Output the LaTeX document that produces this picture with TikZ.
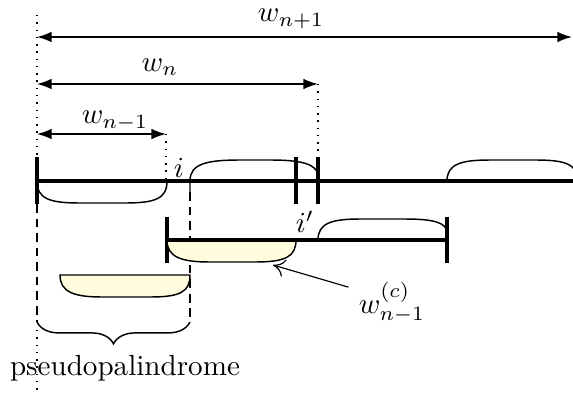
\documentclass[tikz,border=0pt]{standalone}
\usepackage{tikz}
\usetikzlibrary{arrows.meta,decorations.pathreplacing}

\begin{document}
\begin{tikzpicture}[x=0.3436pt, y=-0.3436pt,
    word/.style={line width=1.05pt},
    dimline/.style={{Latex[length=5pt,width=3.6pt]}-{Latex[length=5pt,width=3.6pt]}, line width=0.45pt},
    guide/.style={dotted, line width=0.5pt},
    cut/.style={dash pattern=on 3pt off 2pt, line width=0.45pt},
    cup/.style={line width=0.5pt},
    pal/.style={cup, fill=yellow!13}]
\useasboundingbox (0,0) rectangle (573,392);
% Ends of the words
\coordinate (s)  at (37,181);
\coordinate (e)  at (573,181);
\coordinate (s2) at (167,240);
\coordinate (e2) at (447,240);
% Ticks
\foreach \x/\n in {37/l, 296/p, 318/q} {
    \coordinate (\n-up) at (\x,157);
    \coordinate (\n-dn) at (\x,204);
    \draw[word] (\n-up) -- (\n-dn);
}
\coordinate (s2-up) at (167,217); \coordinate (s2-dn) at (167,263);
\coordinate (e2-up) at (447,217); \coordinate (e2-dn) at (447,263);
\draw[word] (s2-up) -- (s2-dn);
\draw[word] (e2-up) -- (e2-dn);
% The two lines
\draw[word] (s) -- (e);
\draw[word] (s2) -- (e2);
% Lengths w_{n+1}, w_n, w_{n-1}
\coordinate (a1) at (37,37);  \coordinate (b1) at (572,37);
\coordinate (a2) at (37,84);  \coordinate (b2) at (318,84);
\coordinate (a3) at (37,134); \coordinate (b3) at (166,134);
\draw[dimline] (a1) -- (b1);
\draw[dimline] (a2) -- (b2);
\draw[dimline] (a3) -- (b3);
\node (wn1) at (291,19)  {$w_{n+1}$};
\node (wn)  at (160,67)  {$w_n$};
\node (wm1) at (115,121) {$w_{n-1}$};
% Guides
\coordinate (top) at (37,15);
\coordinate (c3)  at (166,181);
\draw[guide] (top) -- (l-up);
\draw[guide] (b3) -- (c3);
\draw[guide] (b2) -- (q-up);
\coordinate (lb)  at (37,322);
\coordinate (rb)  at (190,322);
\coordinate (rt)  at (190,192);
\coordinate (lg)  at (37,330);
\coordinate (bot) at (37,392);
\draw[cut] (l-dn) -- (lb);
\draw[cut] (rt) -- (rb);
\draw[guide] (lg) -- (bot);
% Cups on the first line
\draw[cup] (s) .. controls (37,199) and (50,203) .. (80,203) -- (124,203)
    .. controls (155,203) and (167,199) .. (167,181);
\draw[cup] (rt) -- (190,181) .. controls (190,164) and (206,160) .. (240,160)
    -- (270,160) .. controls (302,160) and (315,164) .. (318,174);
\draw[cup] (447,181) .. controls (447,164) and (461,160) .. (490,160)
    -- (535,160) .. controls (566,160) and (577,164) .. (578,181);
% Cups on the second line
\draw[cup] (318,240) .. controls (318,223) and (332,219) .. (360,219)
    -- (405,219) .. controls (435,219) and (446,223) .. (447,232);
\draw[pal] (s2) .. controls (167,257) and (181,262) .. (210,262) -- (255,262)
    .. controls (285,262) and (296,257) .. (296,240);
\draw[word] (s2) -- (296,240);
\coordinate (yc) at (273,265);
\node (wc) at (392,303) {$w^{(c)}_{n-1}$};
\draw[-{To[length=4pt,width=6pt]}, line width=0.4pt] (wc.160) -- (yc);
% Copy below
\draw[pal] (60,275) .. controls (60,292) and (74,297) .. (102,297) -- (150,297)
    .. controls (180,297) and (190,292) .. (190,275) -- cycle;
% Brace and label
\draw[cup, decorate, decoration={brace, mirror, amplitude=7.5pt}] (lb) -- (rb);
\node (pp) at (125,368) {pseudopalindrome};
\node (i)  at (179,168) {$i$};
\node (ip) at (305,222) {$i'$};
\end{tikzpicture}
\end{document}
